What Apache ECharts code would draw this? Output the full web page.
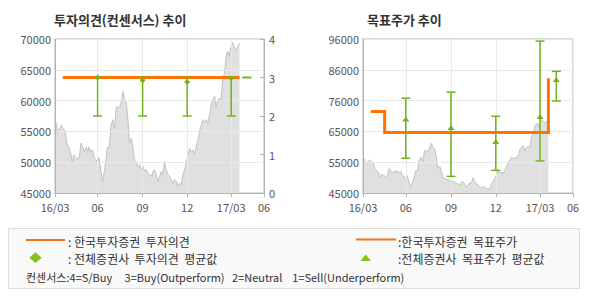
<!DOCTYPE html>
<html><head><meta charset="utf-8">
<style>html,body{margin:0;padding:0;background:#fff;}#c{width:590px;height:300px;}</style>
<script src="https://cdn.jsdelivr.net/npm/echarts@6/dist/echarts.min.js"></script>
</head><body><div id="c"></div>
<script>
// ---- data ----
const axisStart = '2016-03-06';
const axisEnd = '2017-05-07';
const tickDates = ['2016-03-06','2016-06-01','2016-09-01','2016-12-01','2017-03-01','2017-05-07'];
const tickLabels = ['16/03','06','09','12','17/03','06'];

const priceDates = ['2016-03-06','2016-03-09','2016-03-11','2016-03-16','2016-03-19','2016-03-22','2016-03-27','2016-03-30',
'2016-04-04','2016-04-08','2016-04-10','2016-04-13','2016-04-16','2016-04-21','2016-04-25','2016-04-28',
'2016-05-02','2016-05-05','2016-05-09','2016-05-12','2016-05-14','2016-05-18','2016-05-22','2016-05-25','2016-05-29',
'2016-06-01','2016-06-04','2016-06-08','2016-06-11','2016-06-15','2016-06-19','2016-06-21','2016-06-25','2016-06-28',
'2016-07-02','2016-07-06','2016-07-09','2016-07-13','2016-07-16','2016-07-19','2016-07-23','2016-07-26','2016-07-30',
'2016-08-02','2016-08-05','2016-08-09','2016-08-12','2016-08-16','2016-08-19','2016-08-22','2016-08-26','2016-08-29',
'2016-09-02','2016-09-05','2016-09-08','2016-09-12','2016-09-15','2016-09-19','2016-09-22','2016-09-25','2016-09-29',
'2016-10-02','2016-10-06','2016-10-09','2016-10-12','2016-10-16','2016-10-19','2016-10-23','2016-10-26','2016-10-29',
'2016-11-02','2016-11-05','2016-11-09','2016-11-12','2016-11-15','2016-11-19','2016-11-22','2016-11-26','2016-11-29',
'2016-12-02','2016-12-06','2016-12-09','2016-12-13','2016-12-16','2016-12-19','2016-12-23','2016-12-26','2016-12-30',
'2017-01-02','2017-01-05','2017-01-09','2017-01-12','2017-01-16','2017-01-19','2017-01-22','2017-01-26','2017-01-29',
'2017-02-02','2017-02-05','2017-02-08','2017-02-12','2017-02-15','2017-02-19','2017-02-22','2017-02-25',
'2017-03-01','2017-03-04','2017-03-08','2017-03-11','2017-03-14','2017-03-18'];
const priceValues = [56100,56300,54800,55500,56000,55500,55000,53100,
52300,51200,49900,51200,50900,50400,51000,53100,
52400,51700,52400,51500,52500,51700,52000,50700,50400,
49900,50700,48500,46900,48500,50900,52400,52400,55800,
56900,55500,59000,58800,59000,59600,61500,60100,59600,
56900,53100,53900,52400,49900,50100,49300,49600,48800,
49300,48500,48800,48200,48000,47700,48500,48800,48000,
46900,47700,48500,48000,50100,48800,48000,47700,47200,
46600,47200,46900,46100,46600,46300,48000,48800,49900,
50900,52300,51700,52000,51200,52400,53600,55000,56000,
56900,56300,56900,56300,57700,59300,60100,60700,59000,
60100,60400,60100,63600,64400,67400,68000,67100,
69000,69400,68500,68200,68800,69300];

// 한국투자증권 투자의견 (3 = Buy)
const opinionDates = ['2016-03-22','2017-03-18'];
const opinionValues = [3,3];

// 전체증권사 투자의견: min, max, average
const consDates = ['2016-06-01','2016-09-01','2016-12-01','2017-03-01','2017-04-02'];
const consLow = [2,2,2,2,3];
const consHigh = [3,3,3,3,3];
const consAvg = [3.0,2.93,2.88,2.98,3];

// 한국투자증권 목표주가 (step)
const targetDates = ['2016-03-22','2016-04-19','2016-04-19','2017-03-18','2017-03-18'];
const targetValues = [72000,72000,65000,65000,83000];

// 전체증권사 목표주가: min, max, average
const tpDates = ['2016-06-01','2016-09-01','2016-12-01','2017-03-01','2017-04-03'];
const tpLow = [56500,50500,52500,55600,75500];
const tpHigh = [76400,78400,70400,95300,85300];
const tpAvg = [69300,66500,61900,70200,82400];

// ---- build ----
const cats = [];
for (let t = Date.parse(axisStart + 'T00:00:00Z'); t <= Date.parse(axisEnd + 'T00:00:00Z'); t += 86400000) {
  cats.push(new Date(t).toISOString().slice(0, 10));
}
const tickMap = new Map(tickDates.map((d, i) => [d, tickLabels[i]]));
const isTick = (i, v) => tickMap.has(v);

const FONT = '"Noto Sans CJK KR", "Noto Sans", sans-serif';
const AX = '#b4b4b4', GRID = '#e9e9e9', LBL = '#555';
const ORANGE = '#ff7400', GREEN = '#72b21a';

function makeX(gi) {
  return {
    type: 'category', gridIndex: gi, data: cats, boundaryGap: false, z: 2,
    axisLine: { lineStyle: { color: AX } },
    axisTick: { show: true, interval: isTick, length: 4, lineStyle: { color: AX } },
    axisLabel: { interval: isTick, formatter: v => tickMap.get(v) || '', color: LBL, fontSize: 11, lineHeight: 11, fontFamily: FONT, margin: 8 },
    splitLine: { show: true, interval: isTick, lineStyle: { color: GRID } }
  };
}
const pricePairs = priceDates.map((d, i) => [d, priceValues[i]]);

function errRender(shape) {
  return function (params, api) {
    const x = api.value(0);
    const lo = api.coord([x, api.value(1)]);
    const hi = api.coord([x, api.value(2)]);
    const av = api.coord([x, api.value(3)]);
    const hw = 4.5;
    const st = { stroke: GREEN, lineWidth: 1.5 };
    const cx = av[0], cy = av[1];
    const pts = shape === 'diamond'
      ? [[cx, cy - 3], [cx + 3, cy], [cx, cy + 3], [cx - 3, cy]]
      : [[cx, cy - 3], [cx + 3.5, cy + 2], [cx - 3.5, cy + 2]];
    const children = [
      { type: 'line', shape: { x1: lo[0], y1: lo[1], x2: hi[0], y2: hi[1] }, style: st },
      { type: 'line', shape: { x1: lo[0] - hw, y1: lo[1], x2: lo[0] + hw, y2: lo[1] }, style: st },
      { type: 'line', shape: { x1: hi[0] - hw, y1: hi[1], x2: hi[0] + hw, y2: hi[1] }, style: st }
    ];
    if (Math.abs(hi[1] - lo[1]) > 0.5) {
      children.push({ type: 'polygon', shape: { points: pts }, style: { fill: GREEN } });
    }
    return { type: 'group', children };
  };
}

const option = {
  animation: false,
  textStyle: { fontFamily: FONT },
  title: [
    { text: '투자의견(컨센서스) 추이', left: 54, top: 13, padding: 0, textStyle: { fontSize: 13, fontWeight: 'bold', color: '#333', fontFamily: FONT } },
    { text: '목표주가 추이', left: 367, top: 13, padding: 0, textStyle: { fontSize: 13, fontWeight: 'bold', color: '#333', fontFamily: FONT } }
  ],
  grid: [
    { left: 55, top: 39, width: 209, height: 154, show: true, borderColor: AX, borderWidth: 1, backgroundColor: 'transparent' },
    { left: 363, top: 39, width: 210, height: 154, show: true, borderColor: AX, borderWidth: 1, backgroundColor: 'transparent' }
  ],
  xAxis: [makeX(0), makeX(1)],
  yAxis: [
    { type: 'value', gridIndex: 0, min: 45000, max: 70000, interval: 5000, z: 2,
      axisLine: { show: true, lineStyle: { color: AX } }, axisTick: { show: false },
      axisLabel: { color: LBL, fontSize: 11, fontFamily: FONT, margin: 4, formatter: v => String(v) },
      splitLine: { lineStyle: { color: GRID } } },
    { type: 'value', gridIndex: 0, position: 'right', min: 0, max: 4, interval: 1, z: 2,
      axisLine: { show: true, lineStyle: { color: AX } }, axisTick: { show: true, inside: true, length: 4, lineStyle: { color: AX } },
      axisLabel: { color: LBL, fontSize: 11, fontFamily: FONT, margin: 5 },
      splitLine: { show: false } },
    { type: 'value', gridIndex: 1, min: 45000, max: 96000, interval: 10200, z: 2,
      axisLine: { show: true, lineStyle: { color: AX } }, axisTick: { show: false },
      axisLabel: { color: LBL, fontSize: 11, fontFamily: FONT, margin: 4, formatter: v => String(Math.round(v / 1000) * 1000) },
      splitLine: { lineStyle: { color: GRID } } }
  ],
  series: [
    { type: 'line', xAxisIndex: 0, yAxisIndex: 0, data: pricePairs, symbol: 'none', z: 1,
      lineStyle: { color: '#c2c2c2', width: 1 }, areaStyle: { color: '#e0e0e0', opacity: 1 } },
    { type: 'line', xAxisIndex: 0, yAxisIndex: 1, data: opinionDates.map((d, i) => [d, opinionValues[i]]), symbol: 'none', z: 3,
      lineStyle: { color: ORANGE, width: 3 } },
    { type: 'custom', xAxisIndex: 0, yAxisIndex: 1, z: 4, renderItem: errRender('diamond'),
      encode: { x: 0, y: [1, 2, 3] },
      data: consDates.map((d, i) => [d, consLow[i], consHigh[i], consAvg[i]]) },
    { type: 'line', xAxisIndex: 1, yAxisIndex: 2, data: pricePairs, symbol: 'none', z: 1,
      lineStyle: { color: '#c2c2c2', width: 1 }, areaStyle: { color: '#e0e0e0', opacity: 1 } },
    { type: 'line', xAxisIndex: 1, yAxisIndex: 2, data: targetDates.map((d, i) => [d, targetValues[i]]), symbol: 'none', z: 3,
      lineStyle: { color: ORANGE, width: 3, join: 'miter' } },
    { type: 'custom', xAxisIndex: 1, yAxisIndex: 2, z: 4, renderItem: errRender('triangle'),
      encode: { x: 0, y: [1, 2, 3] },
      data: tpDates.map((d, i) => [d, tpLow[i], tpHigh[i], tpAvg[i]]) }
  ],
  graphic: [
    { type: 'rect', shape: { x: 8.5, y: 228.5, width: 571, height: 60 }, style: { fill: '#f9f9f9', stroke: '#dcdcdc', lineWidth: 1 }, z: 0 },
    { type: 'line', shape: { x1: 26, y1: 240, x2: 65, y2: 240 }, style: { stroke: '#f07418', lineWidth: 2 } },
    { type: 'text', x: 68, y: 241, style: { text: ': 한국투자증권  투자의견', fill: '#333', fontSize: 12, fontFamily: FONT, verticalAlign: 'middle' } },
    { type: 'polygon', shape: { points: [[35.5, 252.3], [41.7, 257.7], [35.5, 263], [29.3, 257.7]] }, style: { fill: '#84c41a' } },
    { type: 'text', x: 68, y: 258.5, style: { text: ': 전체증권사  투자의견  평균값', fill: '#333', fontSize: 12, fontFamily: FONT, verticalAlign: 'middle' } },
    { type: 'text', x: 26, y: 277, style: { text: '컨센서스:4=S/Buy     3=Buy(Outperform)   2=Neutral    1=Sell(Underperform)', fill: '#333', fontSize: 11, fontFamily: FONT, verticalAlign: 'middle' } },
    { type: 'line', shape: { x1: 356, y1: 239.5, x2: 396, y2: 239.5 }, style: { stroke: '#f07418', lineWidth: 2 } },
    { type: 'text', x: 398, y: 241, style: { text: ':한국투자증권  목표주가', fill: '#333', fontSize: 12, fontFamily: FONT, verticalAlign: 'middle' } },
    { type: 'polygon', shape: { points: [[365.7, 254.5], [371, 261], [360.4, 261]] }, style: { fill: '#84c41a' } },
    { type: 'text', x: 398, y: 258.5, style: { text: ':전체증권사  목표주가  평균값', fill: '#333', fontSize: 12, fontFamily: FONT, verticalAlign: 'middle' } }
  ]
};
const chart = echarts.init(document.getElementById('c'), null, { renderer: 'svg' });
chart.setOption(option);
</script>
</body></html>
